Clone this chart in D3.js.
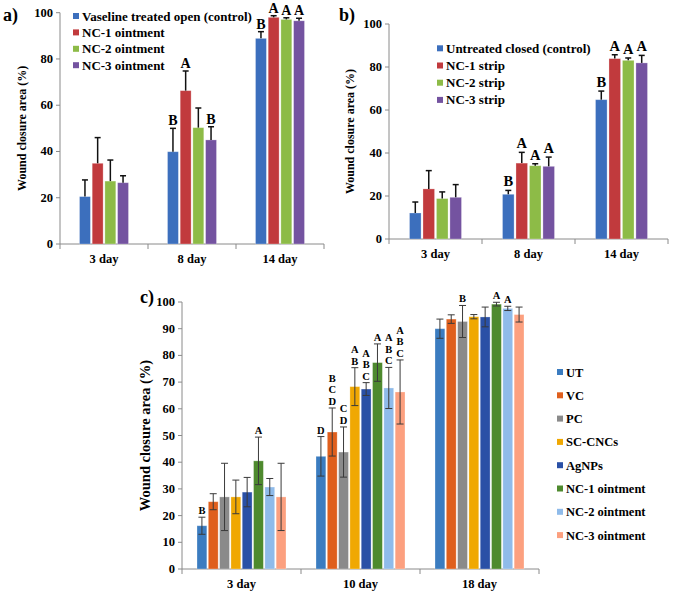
<!DOCTYPE html>
<html>
<head>
<meta charset="utf-8">
<script src="https://cdn.jsdelivr.net/npm/d3@7"></script>
<style>
  body { margin: 0; background: #fff; }
</style>
</head>
<body>
<script>
// panel a
const daysA = ['3 day', '8 day', '14 day'];
const seriesA = ['Vaseline treated open (control)', 'NC-1 ointment', 'NC-2 ointment', 'NC-3 ointment'];
const meanA = [[20.5, 34.9, 27.2, 26.5], [39.9, 66.3, 50.3, 45], [88.9, 98, 97.1, 96.5]];
const errA = [[7.2, 11.1, 9.1, 3], [10.1, 8.5, 8.5, 5.7], [2.9, 0.7, 0.7, 1.1]];
const lettersA = [['', '', '', ''], ['B', 'A', '', 'B'], ['B', 'A', 'A', 'A']];
const colorsAB = ['#3c6fbd', '#c13a3d', '#8dbb47', '#7453a0'];

// panel b
const daysB = ['3 day', '8 day', '14 day'];
const seriesB = ['Untreated closed (control)', 'NC-1 strip', 'NC-2 strip', 'NC-3 strip'];
const meanB = [[12.1, 23.3, 18.8, 19.4], [20.8, 35.3, 34.1, 33.8], [64.8, 83.9, 83.1, 81.9]];
const errB = [[5.1, 8.5, 3.1, 5.9], [1.8, 5, 0.9, 4.3], [4, 1.8, 1.1, 3.5]];
const lettersB = [['', '', '', ''], ['B', 'A', 'A', 'A'], ['B', 'A', 'A', 'A']];

// panel c
const daysC = ['3 day', '10 day', '18 day'];
const seriesC = ['UT', 'VC', 'PC', 'SC-CNCs', 'AgNPs', 'NC-1 ointment', 'NC-2 ointment', 'NC-3 ointment'];
const meanC = [
  [16.2, 25.2, 27, 27, 28.8, 40.5, 30.7, 27],
  [42.2, 51.3, 43.8, 68.3, 67.4, 77.3, 67.8, 66.3],
  [90, 93.6, 92.7, 94.5, 94.4, 99.2, 97.6, 95.3]
];
const errC = [
  [3.2, 3, 12.6, 6.3, 5.5, 8.9, 3.2, 12.6],
  [7.4, 9, 9.4, 7.1, 2.4, 7, 7.7, 12],
  [3.6, 1.6, 6, 0.8, 3.7, 0.7, 0.8, 2.8]
];
const lettersC = [
  ['B', '', '', '', '', 'A', '', ''],
  ['D', 'BCD', 'CD', 'AB', 'ABC', 'A', 'ABC', 'ABC'],
  ['', '', 'B', '', '', 'A', 'A', '']
];
const colorsC = ['#3b7cc0', '#df5f1d', '#8a8a8a', '#f0a802', '#2a50a6', '#4e8a2e', '#8fbbea', '#fca07f'];

const yTicksAB = [0, 20, 40, 60, 80, 100];
const yTicksC = [0, 10, 20, 30, 40, 50, 60, 70, 80, 90, 100];

const svg = d3.select('body').append('svg')
  .attr('width', 675)
  .attr('height', 592)
  .attr('font-family', "'Liberation Serif', 'Times New Roman', 'DejaVu Serif', serif")
  .attr('font-weight', 'bold');

function drawPanel(p)
{
  const g = svg.append('g');
  const x = d3.scaleBand().domain(p.days).range([p.left, p.right]);
  const x1 = d3.scaleBand().domain(d3.range(p.series.length))
    .range([(x.bandwidth() - p.groupW) / 2, (x.bandwidth() + p.groupW) / 2])
    .paddingInner(p.gap);
  const y = d3.scaleLinear().domain([0, 100]).range([p.bottom, p.top]);

  // axes
  g.append('line').attr('x1', p.left).attr('x2', p.left).attr('y1', p.top).attr('y2', p.bottom)
    .attr('stroke', '#8a8a8a').attr('stroke-width', 1);
  g.append('line').attr('x1', p.left).attr('x2', p.right).attr('y1', p.bottom).attr('y2', p.bottom)
    .attr('stroke', '#8a8a8a').attr('stroke-width', 1);
  g.selectAll('.ytick').data(p.yTicks).enter().append('line')
    .attr('x1', p.left - 4).attr('x2', p.left)
    .attr('y1', d => y(d)).attr('y2', d => y(d))
    .attr('stroke', '#8a8a8a');
  g.selectAll('.ylab').data(p.yTicks).enter().append('text')
    .attr('x', p.left - 7).attr('y', d => y(d) + 4)
    .attr('text-anchor', 'end').attr('font-size', p.tickSize)
    .text(d => d);
  const bounds = p.days.map(d => x(d)).concat([p.right]);
  g.selectAll('.xtick').data(bounds).enter().append('line')
    .attr('x1', d => d).attr('x2', d => d)
    .attr('y1', p.bottom).attr('y2', p.bottom + 5)
    .attr('stroke', '#8a8a8a');
  g.selectAll('.xlab').data(p.days).enter().append('text')
    .attr('x', d => x(d) + x.bandwidth() / 2).attr('y', p.bottom + 19)
    .attr('text-anchor', 'middle').attr('font-size', 12.5)
    .text(d => d);

  // y title
  g.append('text')
    .attr('transform', 'translate(' + p.titleX + ',' + ((p.top + p.bottom) / 2) + ') rotate(-90)')
    .attr('text-anchor', 'middle').attr('font-size', p.titleSize)
    .text('Wound closure area (%)');

  // panel label
  g.append('text').attr('x', p.labelX).attr('y', p.labelY).attr('font-size', 18).text(p.label);

  // bars
  p.days.forEach(function(day, i)
  {
    const grp = g.append('g').attr('transform', 'translate(' + x(day) + ',0)');
    p.series.forEach(function(s, j)
    {
      const v = p.mean[i][j], e = p.err[i][j];
      const bx = x1(j), bw = x1.bandwidth(), cx = bx + bw / 2;
      grp.append('rect')
        .attr('x', bx).attr('y', y(v))
        .attr('width', bw).attr('height', y(0) - y(v))
        .attr('fill', p.colors[j])
        .attr('stroke', 'rgba(255,255,255,0.35)').attr('stroke-width', 0.8);
      const lo = p.both ? y(v - e) : y(v);
      grp.append('line').attr('x1', cx).attr('x2', cx).attr('y1', lo).attr('y2', y(v + e))
        .attr('stroke', p.errColor).attr('stroke-width', p.errW);
      grp.append('line').attr('x1', cx - p.cap).attr('x2', cx + p.cap).attr('y1', y(v + e)).attr('y2', y(v + e))
        .attr('stroke', p.errColor).attr('stroke-width', p.errW);
      if (p.both)
      {
        grp.append('line').attr('x1', cx - p.cap).attr('x2', cx + p.cap).attr('y1', y(v - e)).attr('y2', y(v - e))
          .attr('stroke', p.errColor).attr('stroke-width', p.errW);
      }
      const letters = p.letters[i][j].split('');
      letters.forEach(function(ch, k)
      {
        grp.append('text')
          .attr('x', cx)
          .attr('y', y(v + e) - p.letterGap - (letters.length - 1 - k) * p.letterStep)
          .attr('text-anchor', 'middle').attr('font-size', p.letterSize)
          .text(ch);
      });
    });
  });

  // legend
  p.series.forEach(function(s, j)
  {
    const ly = p.legY + j * p.legStep;
    g.append('rect').attr('x', p.legX).attr('y', ly - 3).attr('width', 6).attr('height', 6)
      .attr('fill', p.colors[j]);
    g.append('text').attr('x', p.legX + 9).attr('y', ly + 4.5)
      .attr('font-size', p.legSize).text(s);
  });
}

drawPanel({
  days: daysA, series: seriesA, mean: meanA, err: errA, letters: lettersA, colors: colorsAB,
  left: 60, right: 324, top: 12.7, bottom: 244, groupW: 49, gap: 0.14, yTicks: yTicksAB,
  tickSize: 12.5, titleX: 26, titleSize: 12, label: 'a)', labelX: 3, labelY: 21,
  both: false, errColor: '#111', errW: 1.5, cap: 3, letterGap: 3, letterStep: 14, letterSize: 14,
  legX: 73, legY: 16, legStep: 16.4, legSize: 13
});

drawPanel({
  days: daysB, series: seriesB, mean: meanB, err: errB, letters: lettersB, colors: colorsAB,
  left: 389, right: 668, top: 24, bottom: 239, groupW: 52, gap: 0.14, yTicks: yTicksAB,
  tickSize: 12.5, titleX: 354, titleSize: 12, label: 'b)', labelX: 339, labelY: 21,
  both: false, errColor: '#111', errW: 1.5, cap: 3, letterGap: 4, letterStep: 14, letterSize: 14.5,
  legX: 437, legY: 48.3, legStep: 17.2, legSize: 13
});

drawPanel({
  days: daysC, series: seriesC, mean: meanC, err: errC, letters: lettersC, colors: colorsC,
  left: 182, right: 539, top: 302, bottom: 569, groupW: 89, gap: 0.13, yTicks: yTicksC,
  tickSize: 12.5, titleX: 150, titleSize: 14.5, label: 'c)', labelX: 140, labelY: 303,
  both: true, errColor: '#3a3a3a', errW: 1, cap: 3.5, letterGap: 3, letterStep: 11.5, letterSize: 10.5,
  legX: 557, legY: 372, legStep: 23.3, legSize: 12.5
});
</script>
</body>
</html>
